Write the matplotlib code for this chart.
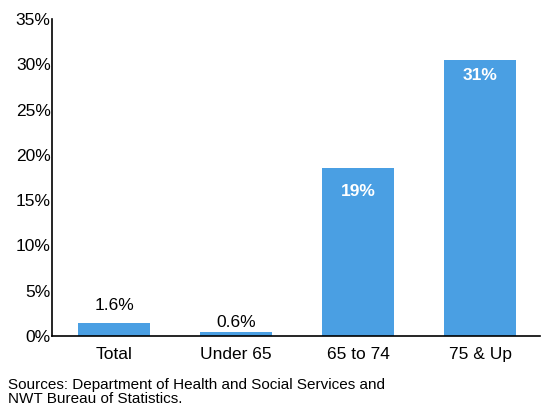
import matplotlib.pyplot as plt

# Data
categories = ["Total", "Under 65", "65 to 74", "75 & Up"]
heights = [1.4, 0.45, 18.5, 30.5]
labels = ["1.6%", "0.6%", "19%", "31%"]
inside = [False, False, True, True]
yticks = [0, 5, 10, 15, 20, 25, 30, 35]

# label offsets from bar top, in points (label placement only)
label_offsets = [13, 6.5, -16.5, -11.5]

plt.rcParams['font.family'] = ['Liberation Sans', 'DejaVu Sans']

fig = plt.figure(figsize=(5.48, 4.15), dpi=100)
ax = fig.add_axes([52 / 548, 1 - 336 / 415, (540 - 52) / 548, (336 - 19) / 415])

x = range(len(categories))
ax.bar(x, heights, width=0.59, color="#4a9fe3", zorder=2)

for i, h in enumerate(heights):
    if inside[i]:
        ax.annotate(labels[i], (i, h), xytext=(0, label_offsets[i]),
                    textcoords="offset points", ha="center", va="center",
                    color="white", fontsize=12.5, fontweight="bold")
    else:
        ax.annotate(labels[i], (i, h), xytext=(0, label_offsets[i]),
                    textcoords="offset points", ha="center", va="center",
                    color="black", fontsize=12.5)

ax.set_xlim(-0.51, 3.49)
ax.set_ylim(0, 35)
ax.set_yticks(yticks)
ax.set_yticklabels([f"{t}%" for t in yticks], fontsize=12.5)
ax.set_xticks(list(x))
ax.set_xticklabels(categories, fontsize=12.5)
ax.tick_params(axis="y", length=0, pad=1)
ax.tick_params(axis="x", length=0, pad=8)
ax.spines["top"].set_visible(False)
ax.spines["right"].set_visible(False)
ax.spines["left"].set_linewidth(1.2)
ax.spines["bottom"].set_linewidth(1.2)

fig.text(8 / 548, 1 - 392 / 415,
         "Sources: Department of Health and Social Services and\nNWT Bureau of Statistics.",
         ha="left", va="center", fontsize=11, linespacing=1.05)

fig.savefig("out.png", dpi=100)
